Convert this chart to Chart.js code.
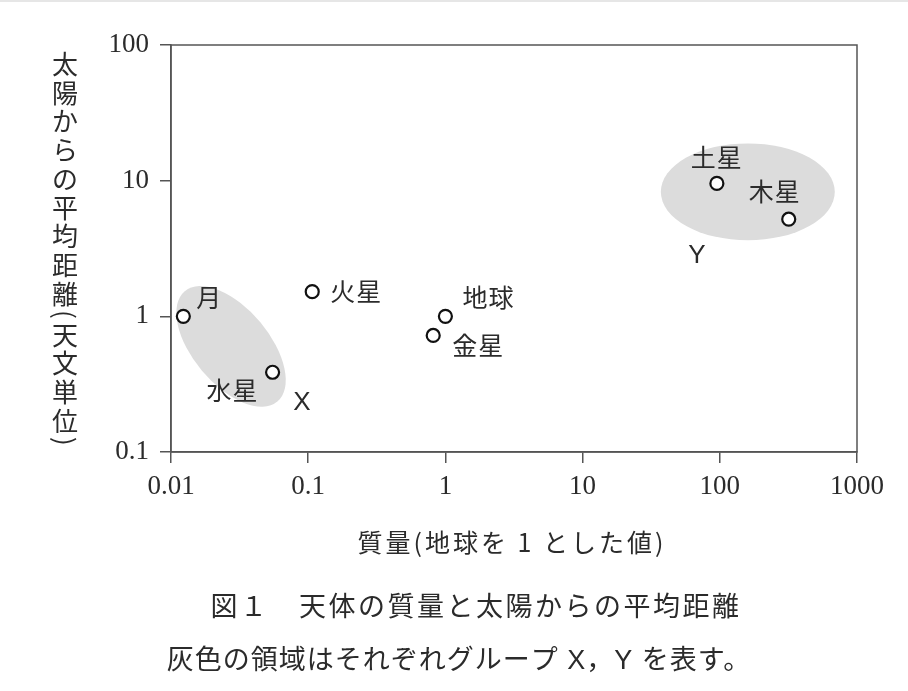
<!DOCTYPE html>
<html>
<head>
<meta charset="utf-8">
<script src="https://cdn.jsdelivr.net/npm/chart.js@4.4.1/dist/chart.umd.min.js"></script>
<style>
  html, body { margin: 0; padding: 0; background: #fff; }
  #wrap { width: 908px; height: 691px; position: relative; border-top: 2px solid #e6e6e6; box-sizing: border-box; }
</style>
</head>
<body>
<div id="wrap"><canvas id="chart" width="908" height="689"></canvas></div>
<script>
// bodies: mass (Earth = 1) and mean distance from the Sun (AU)
const bodyNames = ['月', '水星', '火星', '地球', '金星', '土星', '木星'];
const bodyMass = [0.0123, 0.055, 0.107, 1, 0.815, 95.2, 318];
const bodyDistance = [1, 0.387, 1.52, 1, 0.723, 9.55, 5.2];

const xTicks = [0.01, 0.1, 1, 10, 100, 1000];
const yTicks = [0.1, 1, 10, 100];

// grey group regions (centre in data units)
const groupNames = ['X', 'Y'];
const groupCenterX = [0.0274, 160];
const groupCenterY = [0.60, 8.27];
const groupLabelX = [0.09, 68];
const groupLabelY = [0.232, 2.8];

const xTitle = '質量(地球を 1 とした値)';
const yTitle = '太陽からの平均距離(天文単位)';
const caption1 = '図１　天体の質量と太陽からの平均距離';
const caption2 = '灰色の領域はそれぞれグループ X，Y を表す。';

const JP = '"Noto Sans CJK JP", sans-serif';
const ink = '#2b2b2b';

// label offsets from each point, pixels
const labelOffsets = [[26, -19], [-40, 18], [44, 0], [43, -19], [45, 10], [0, -26], [-14, -28]];
// ellipse shape: semi-axes in decades and rotation in degrees
const groupShape = [
    { a: 0.525, b: 0.28, rot: 50 },
    { a: 0.634, b: 0.357, rot: 0 }
];

const decorPlugin = {
    id: 'decor',
    beforeDatasetsDraw(chart) {
        const { ctx, scales: { x, y } } = chart;
        const pxX = x.getPixelForValue(10) - x.getPixelForValue(1);
        const pxY = y.getPixelForValue(1) - y.getPixelForValue(10);
        ctx.save();
        ctx.fillStyle = '#dcdcdc';
        groupNames.forEach((g, i) => {
            const cx = x.getPixelForValue(groupCenterX[i]);
            const cy = y.getPixelForValue(groupCenterY[i]);
            const s = groupShape[i];
            ctx.beginPath();
            ctx.ellipse(cx, cy, s.a * pxX, s.b * pxY, s.rot * Math.PI / 180, 0, Math.PI * 2);
            ctx.fill();
        });
        ctx.restore();
    },
    afterDraw(chart) {
        const { ctx, chartArea: ca, scales: { x, y } } = chart;
        ctx.save();
        // plot frame
        ctx.strokeStyle = '#555';
        ctx.lineWidth = 1.5;
        ctx.strokeRect(ca.left, ca.top, ca.right - ca.left, ca.bottom - ca.top);

        // point labels
        ctx.fillStyle = ink;
        ctx.textAlign = 'center';
        ctx.textBaseline = 'middle';
        ctx.font = '25px ' + JP;
        ctx.letterSpacing = '1px';
        const meta = chart.getDatasetMeta(0);
        meta.data.forEach((pt, i) => {
            const o = labelOffsets[i];
            ctx.fillText(bodyNames[i], pt.x + o[0], pt.y + o[1]);
        });
        ctx.letterSpacing = '0px';

        // group letters
        ctx.font = '26px "Liberation Sans", sans-serif';
        groupNames.forEach((g, i) => {
            ctx.fillText(g, x.getPixelForValue(groupLabelX[i]), y.getPixelForValue(groupLabelY[i]));
        });

        // x axis title
        ctx.font = '25px ' + JP;
        ctx.letterSpacing = '3px';
        ctx.fillText(xTitle, (ca.left + ca.right) / 2 - 2, 540);
        ctx.letterSpacing = '0px';

        // y axis title, stacked vertically
        ctx.font = '26px ' + JP;
        const chars = Array.from(yTitle);
        let cy = 47.6;
        chars.forEach(ch => {
            const paren = ch === '(' || ch === ')';
            const h = paren ? 12 : 28.75;
            if (paren) {
                ctx.save();
                ctx.translate(65, cy + h / 2);
                ctx.rotate(Math.PI / 2);
                ctx.fillText(ch, 0, 0);
                ctx.restore();
            } else {
                ctx.fillText(ch, 65, cy + h / 2);
            }
            cy += h;
        });

        // captions
        ctx.font = '27px ' + JP;
        ctx.letterSpacing = '2.5px';
        ctx.fillText(caption1, 476, 604);
        ctx.font = '27px "Liberation Sans", ' + JP;
        ctx.letterSpacing = '1px';
        ctx.fillText(caption2, 459, 660);
        ctx.restore();
    }
};

const onlyDecades = (ticks) => (scale) => {
    scale.ticks = ticks.map(v => ({ value: v }));
};

new Chart(document.getElementById('chart'), {
    type: 'scatter',
    data: {
        datasets: [{
            data: bodyMass.map((m, i) => ({ x: m, y: bodyDistance[i] })),
            pointRadius: 6.5,
            pointHoverRadius: 6.5,
            pointBackgroundColor: '#fff',
            pointBorderColor: '#111',
            pointBorderWidth: 2.2
        }]
    },
    options: {
        responsive: false,
        animation: false,
        layout: { padding: { top: 43, right: 51, left: 0, bottom: 0 } },
        plugins: { legend: { display: false }, tooltip: { enabled: false } },
        scales: {
            x: {
                type: 'logarithmic',
                min: 0.01,
                max: 1000,
                afterBuildTicks: onlyDecades(xTicks),
                afterFit(scale) { scale.height = 689 - 450; },
                grid: { drawOnChartArea: false, drawTicks: true, tickLength: 11, color: '#555', lineWidth: 1.5 },
                border: { color: '#555', width: 1.5 },
                ticks: {
                    color: ink,
                    font: { family: '"Liberation Serif", serif', size: 27 },
                    padding: 8,
                    maxRotation: 0,
                    autoSkip: false,
                    callback: (v) => String(v)
                }
            },
            y: {
                type: 'logarithmic',
                min: 0.1,
                max: 100,
                afterBuildTicks: onlyDecades(yTicks),
                afterFit(scale) { scale.width = 171; },
                grid: { drawOnChartArea: false, drawTicks: true, tickLength: 11, color: '#555', lineWidth: 1.5 },
                border: { color: '#555', width: 1.5 },
                ticks: {
                    color: ink,
                    font: { family: '"Liberation Serif", serif', size: 27 },
                    padding: 11,
                    autoSkip: false,
                    callback: (v) => String(v)
                }
            }
        }
    },
    plugins: [decorPlugin]
});
</script>
</body>
</html>
